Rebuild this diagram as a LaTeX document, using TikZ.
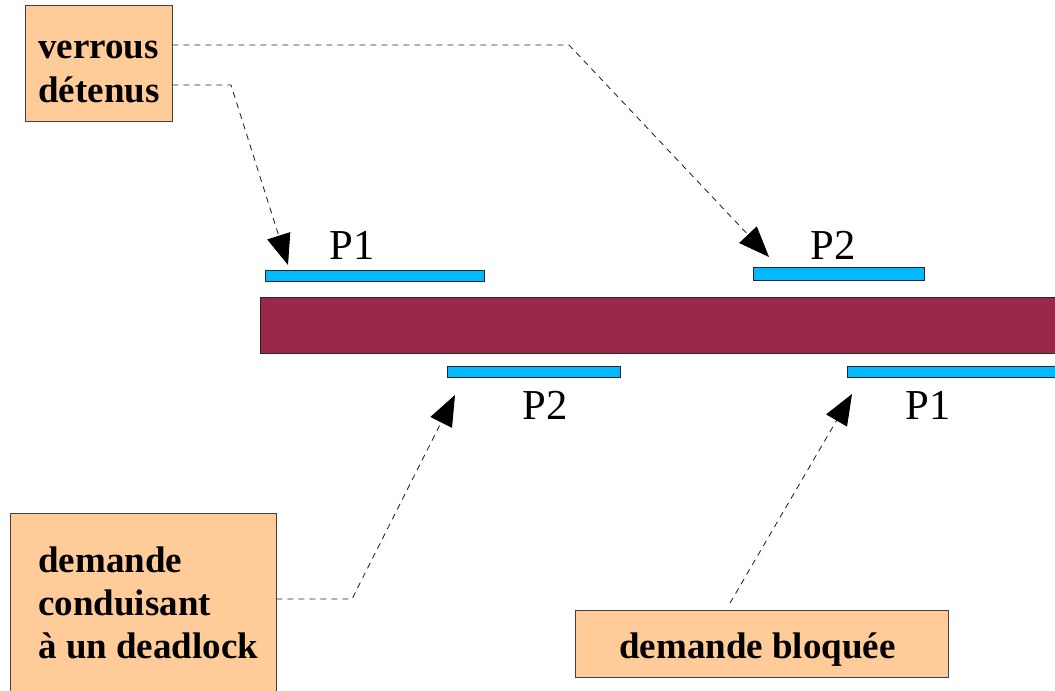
\documentclass[tikz,border=0pt]{standalone}
\usepackage{fontspec}
\setmainfont{Liberation Serif}
\usetikzlibrary{arrows.meta}

\definecolor{notefill}{RGB}{255,204,153}
\definecolor{lockcyan}{RGB}{0,185,255}
\definecolor{resmaroon}{RGB}{153,40,74}

\begin{document}
\begin{tikzpicture}[x=0.75pt, y=-0.75pt,
	notebox/.style={draw=black!75, line width=0.6pt, fill=notefill, inner sep=0pt},
	notetext/.style={font=\fontsize{27.75}{32.5}\selectfont\bfseries, align=left, inner sep=0pt},
	lockbar/.style={draw=black!85, line width=0.6pt, fill=lockcyan, anchor=north west, inner sep=0pt, minimum height=8pt},
	proc/.style={font=\fontsize{32}{36}\selectfont, inner sep=0pt},
	pointer/.style={draw=black!85, line width=0.65pt, dash pattern=on 4.5pt off 3.75pt, -{Triangle[length=23pt, width=18pt, black]}}]

		\useasboundingbox (0,0) rectangle (1055,690);
		\clip (0,0) rectangle (1055,690);

		\node (resource) [draw=black!85, line width=0.6pt, fill=resmaroon, anchor=north west, inner sep=0pt, minimum width=600pt, minimum height=42pt] at (260,297) {};

		\node (topone) [lockbar, minimum width=164.25pt] at (265,270) {};
		\node (toptwo) [lockbar, minimum width=128.25pt, minimum height=10pt] at (753,267) {};
		\node (lowtwo) [lockbar, minimum width=129.75pt] at (447,366) {};
		\node (lowone) [lockbar, minimum width=160pt] at (847,366) {};

		\node (topp1) [proc] at (352,245) {P1};
		\node (topp2) [proc] at (833,245) {P2};
		\node (lowp2) [proc] at (545,405) {P2};
		\node (lowp1) [proc] at (928,405) {P1};

		\node (heldbox) [notebox, minimum width=110.25pt, minimum height=87pt] at (98.5,63) {};
		\node (heldtext) [notetext, anchor=west] at (38,72) {verrous\\détenus};

		\node (deadbox) [notebox, minimum width=199.5pt, minimum height=144pt] at (143,609) {};
		\node (deadtext) [notetext, anchor=west] at (38,603) {demande\\conduisant\\à un deadlock};

		\node (blockbox) [notebox, minimum width=279.75pt, minimum height=50.25pt] at (761.5,643.5) {};
		\node (blocktext) [notetext] at (757.5,650) {demande bloquée};

		\coordinate (bendB) at (569,45);
		\coordinate (bendA) at (231,85);
		\coordinate (bendC) at (352,599);
		\coordinate (tailD) at (730,603);
		\coordinate (tipA) at (288,265);
		\coordinate (tipB) at (769,257);
		\coordinate (tipC) at (455,395);
		\coordinate (tipD) at (852,394);

		\draw[pointer] (heldbox.east |- bendB) -- (bendB) -- (tipB);
		\draw[pointer] (heldbox.east |- bendA) -- (bendA) -- (tipA);
		\draw[pointer] (deadbox.east |- bendC) -- (bendC) -- (tipC);
		\draw[pointer] (tailD) -- (tipD);

	\end{tikzpicture}
\end{document}
